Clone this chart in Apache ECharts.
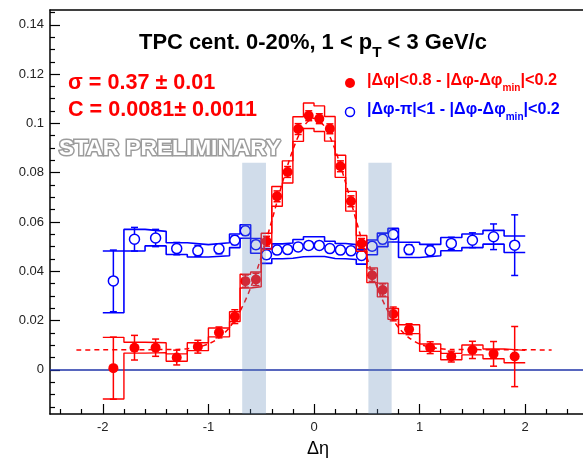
<!DOCTYPE html>
<html><head><meta charset="utf-8">
<script src="https://cdn.jsdelivr.net/npm/echarts@6/dist/echarts.min.js"></script>
<style>html,body{margin:0;padding:0;background:#fff}#c{width:583px;height:462px}</style>
</head><body><div id="c"></div>
<script>
// ---------------- data ----------------
const eta = [-1.9,-1.7,-1.5,-1.3,-1.1,-0.9,-0.75,-0.65,-0.55,-0.45,-0.35,-0.25,-0.15,-0.05,0.05,0.15,0.25,0.35,0.45,0.55,0.65,0.75,0.9,1.1,1.3,1.5,1.7,1.9];
const binHalfWidth = [0.1,0.1,0.1,0.1,0.1,0.1,0.05,0.05,0.05,0.05,0.05,0.05,0.05,0.05,0.05,0.05,0.05,0.05,0.05,0.05,0.05,0.05,0.1,0.1,0.1,0.1,0.1,0.1];

const redValues = [0.0007,0.0090,0.0090,0.0050,0.0094,0.0152,0.0216,0.0360,0.0367,0.0522,0.0704,0.0803,0.0977,0.1031,0.1019,0.0978,0.0826,0.0684,0.0513,0.0384,0.0324,0.0227,0.0165,0.0090,0.0054,0.0081,0.0065,0.0054];
const redStat   = [0.0126,0.0050,0.0035,0.0030,0.0026,0.0022,0.0028,0.0025,0.0025,0.0020,0.0022,0.0022,0.0022,0.0020,0.0020,0.0020,0.0022,0.0022,0.0020,0.0025,0.0025,0.0028,0.0022,0.0024,0.0022,0.0035,0.0050,0.0122];
const redSys    = [0.0125,0.0022,0.0020,0.0015,0.0016,0.0018,0.0020,0.0028,0.0030,0.0032,0.0040,0.0045,0.0050,0.0052,0.0052,0.0050,0.0045,0.0040,0.0032,0.0030,0.0028,0.0022,0.0018,0.0015,0.0013,0.0020,0.0020,0.0025];

const blueValues = [0.0361,0.0530,0.0535,0.0492,0.0483,0.0491,0.0526,0.0564,0.0508,0.0467,0.0486,0.0488,0.0499,0.0505,0.0505,0.0492,0.0486,0.0483,0.0464,0.0502,0.0530,0.0549,0.0488,0.0483,0.0513,0.0526,0.0540,0.0506];
const blueStat   = [0.0125,0.0048,0.0035,0.0025,0.0022,0.0020,0.0018,0.0018,0.0016,0.0016,0.0015,0.0015,0.0015,0.0015,0.0015,0.0015,0.0015,0.0015,0.0016,0.0016,0.0018,0.0018,0.0020,0.0022,0.0025,0.0030,0.0052,0.0123];
const blueSysUp  = [0.0121,0.0040,0.0027,0.0024,0.0025,0.0025,0.0025,0.0025,0.0025,0.0025,0.0025,0.0027,0.0030,0.0035,0.0035,0.0030,0.0027,0.0025,0.0025,0.0025,0.0025,0.0025,0.0030,0.0026,0.0024,0.0025,0.0026,0.0037];
const blueSysDown= [0.0129,0.0048,0.0032,0.0024,0.0025,0.0028,0.0030,0.0030,0.0035,0.0035,0.0035,0.0035,0.0040,0.0045,0.0045,0.0040,0.0035,0.0035,0.0035,0.0035,0.0030,0.0030,0.0032,0.0020,0.0030,0.0030,0.0030,0.0030];

const fitEta    = [-2.25,-1.3,-1.2,-1.1,-1.0,-0.9,-0.8,-0.7,-0.6,-0.5,-0.4,-0.3,-0.2,-0.1,0,0.1,0.2,0.3,0.4,0.5,0.6,0.7,0.8,0.9,1.0,1.1,1.2,1.3,2.25];
const fitValues = [0.0081,0.0083,0.0086,0.0092,0.0105,0.0130,0.0172,0.0238,0.0333,0.0458,0.0605,0.0758,0.0893,0.0987,0.1021,0.0987,0.0893,0.0758,0.0605,0.0458,0.0333,0.0238,0.0172,0.0130,0.0105,0.0092,0.0086,0.0083,0.0081];

const bandRanges = [[-0.68,-0.455],[0.515,0.735]];
const bandTop = 0.084;

const xTickLabels = [-2,-1,0,1,2];
const yTickLabels = [0,0.02,0.04,0.06,0.08,0.1,0.12,0.14];

// ---------------- layout ----------------
const X_MIN = -2.5, X_MAX = 2.547, Y_MIN = -0.0179, Y_MAX = 0.146;
const FONT = "'Liberation Sans', Arial, Helvetica, sans-serif";
const RED = '#ff0000', BLUE = '#0000ff';

const xMinor = []; for (let k = -12; k <= 12; k++) { if (k % 5 !== 0) xMinor.push(+(k * 0.2).toFixed(2)); }
const yMinor = []; for (let k = -3; k <= 29; k++) { if (k % 4 !== 0) yMinor.push(+(k * 0.005).toFixed(3)); }

function steps(vals, off, sign) {
  const out = [];
  eta.forEach((x, i) => {
    const y = vals[i] + sign * off[i];
    out.push([x - binHalfWidth[i], y], [x + binHalfWidth[i], y]);
  });
  return out;
}
function stepSeries(data, color, w, z) {
  return {type:'line', data, showSymbol:false, symbol:'none', z, lineStyle:{color, width:w}, itemStyle:{color}, silent:true, animation:false};
}
function errSeries(vals, errs, color, cap, z) {
  return {
    type:'custom', z, silent:true, animation:false,
    data: eta.map((x, i) => [x, vals[i], errs[i]]),
    encode:{x:0, y:1},
    renderItem: (params, api) => {
      const x = api.value(0), v = api.value(1), e = api.value(2);
      const t = api.coord([x, v + e]), b = api.coord([x, v - e]);
      const st = {stroke:color, lineWidth:1.5};
      return {type:'group', children:[
        {type:'line', shape:{x1:t[0], y1:t[1], x2:b[0], y2:b[1]}, style:st},
        {type:'line', shape:{x1:t[0]-cap, y1:t[1], x2:t[0]+cap, y2:t[1]}, style:st},
        {type:'line', shape:{x1:b[0]-cap, y1:b[1], x2:b[0]+cap, y2:b[1]}, style:st}
      ]};
    }
  };
}

const series = [
  {type:'line', data:[[X_MIN,0],[X_MAX,0]], symbol:'none', z:1, lineStyle:{color:'#1f33a8', width:1.5}, silent:true, animation:false},
  stepSeries(steps(blueValues, blueSysUp, 1), BLUE, 1.6, 2),
  stepSeries(steps(blueValues, blueSysDown, -1), BLUE, 1.6, 2),
  errSeries(blueValues, blueStat, BLUE, 3.5, 3),
  {type:'scatter', data: eta.map((x,i)=>[x, blueValues[i]]), symbol:'circle', symbolSize:10, z:4,
   itemStyle:{color:'#fff', borderColor:BLUE, borderWidth:1.5, opacity:1}, silent:true, animation:false},
  stepSeries(steps(redValues, redSys, 1), RED, 1.4, 5),
  stepSeries(steps(redValues, redSys, -1), RED, 1.4, 5),
  {type:'line', data: fitEta.map((x,i)=>[x, fitValues[i]]), symbol:'none', smooth:0.3, z:6,
   lineStyle:{color:RED, width:1.5, type:[5,4]}, silent:true, animation:false},
  errSeries(redValues, redStat, RED, 3.5, 7),
  {type:'scatter', data: eta.map((x,i)=>[x, redValues[i]]), symbol:'circle', symbolSize:10, z:8,
   itemStyle:{color:RED, opacity:1}, silent:true, animation:false},
  {type:'custom', z:20, silent:true, animation:false,
   data: bandRanges.map(r => [r[0], r[1]]),
   renderItem: (params, api) => {
     const a = api.coord([api.value(0), bandTop]), b = api.coord([api.value(1), Y_MIN]);
     return {type:'rect', shape:{x:a[0], y:a[1], width:b[0]-a[0], height:b[1]-a[1]}, style:{fill:'rgba(98,138,185,0.3)'}};
   }}
];

const baseX = {type:'value', min:X_MIN, max:X_MAX, splitLine:{show:false}};
const baseY = {type:'value', min:Y_MIN, max:Y_MAX, splitLine:{show:false}};
const option = {
  animation:false,
  grid:{left:50, right:0, top:10, bottom:48, containLabel:false},
  xAxis:[
    Object.assign({}, baseX, {position:'bottom', axisLine:{show:true, onZero:false, lineStyle:{color:'#000', width:1.5}},
      axisTick:{show:true, inside:true, length:10, customValues:xTickLabels, lineStyle:{color:'#000', width:1.2}},
      axisLabel:{show:true, customValues:xTickLabels, color:'#222', fontSize:13, fontFamily:FONT, margin:7, formatter: v => String(v)}}),
    Object.assign({}, baseX, {position:'bottom', axisLine:{show:false, onZero:false},
      axisTick:{show:true, inside:true, length:5, customValues:xMinor, lineStyle:{color:'#000', width:1.2}},
      axisLabel:{show:false}}),
    Object.assign({}, baseX, {position:'top', axisLine:{show:true, onZero:false, lineStyle:{color:'#000', width:1.5}},
      axisTick:{show:false}, axisLabel:{show:false}})
  ],
  yAxis:[
    Object.assign({}, baseY, {position:'left', axisLine:{show:true, onZero:false, lineStyle:{color:'#000', width:1.5}},
      axisTick:{show:true, inside:true, length:10, customValues:yTickLabels, lineStyle:{color:'#000', width:1.2}},
      axisLabel:{show:true, customValues:yTickLabels, color:'#222', fontSize:13, fontFamily:FONT, margin:6,
        formatter: v => String(parseFloat((+v).toFixed(3)))}}),
    Object.assign({}, baseY, {position:'left', axisLine:{show:false, onZero:false},
      axisTick:{show:true, inside:true, length:5, customValues:yMinor, lineStyle:{color:'#000', width:1.2}},
      axisLabel:{show:false}})
  ],
  series
};

// -------- annotation text (measured so widths match) --------
const ctx = document.createElement('canvas').getContext('2d');
function fnt(size, bold) { return (bold ? 'bold ' : '') + size.toFixed(2) + 'px ' + FONT; }
function tw(t, f) { ctx.font = f; return ctx.measureText(t).width; }
function textRow(parts, left, midY, size, color, targetWidth, bold, subScale, subDrop) {
  subScale = subScale || 0.62; subDrop = subDrop || 0.42;
  const total = s => parts.reduce((a, p) => a + tw(p.t, fnt(p.sub ? s * subScale : s, bold)), 0);
  if (targetWidth) size = size * targetWidth / total(size);
  let x = left; const els = [];
  parts.forEach(p => {
    const s = p.sub ? size * subScale : size, f = fnt(s, bold);
    els.push({type:'text', x, y: midY + (p.sub ? size * subDrop : 0), z:100,
      style:{text:p.t, font:f, fill:color, textAlign:'left', textVerticalAlign:'middle', align:'left', verticalAlign:'middle'}});
    x += tw(p.t, f);
  });
  return els;
}

let g = [];
g = g.concat(textRow([{t:'TPC cent. 0-20%, 1 < p'},{t:'T', sub:true},{t:' < 3 GeV/c'}], 139, 43, 21, '#000', 348, true, 0.7, 0.45));
const sigSize = 21 * 189 / (tw('C = 0.0081± 0.0011', fnt(21, true)));
g = g.concat(textRow([{t:'σ = 0.37 ± 0.01'}], 68, 83, sigSize, RED, null, true));
g = g.concat(textRow([{t:'C = 0.0081± 0.0011'}], 68, 110, sigSize, RED, null, true));
g = g.concat(textRow([{t:'|Δφ|<0.8 - |Δφ-Δφ'},{t:'min', sub:true},{t:'|<0.2'}], 367, 81, 16, RED, 190, true));
g = g.concat(textRow([{t:'|Δφ-π|<1 - |Δφ-Δφ'},{t:'min', sub:true},{t:'|<0.2'}], 367, 110, 16, BLUE, 193, true));
g.push({type:'circle', shape:{cx:350, cy:83, r:5}, style:{fill:RED}, z:100});
g.push({type:'circle', shape:{cx:350, cy:112, r:4.5}, style:{fill:'#fff', stroke:BLUE, lineWidth:1.5}, z:100});
// STAR PRELIMINARY
const starNat = tw('STAR PRELIMINARY', fnt(22, true));
const starSize = 22 * 222 / starNat;
g.push({type:'text', x:59, y:149, z:90, style:{text:'STAR PRELIMINARY', font:fnt(starSize, true), fill:'#ffffff',
  stroke:'#9c9c9c', lineWidth:3, strokeFirst:true, textAlign:'left', textVerticalAlign:'middle', align:'left', verticalAlign:'middle'}});
// axis title
g.push({type:'text', x:318, y:449, z:100, style:{text:'Δη', font:fnt(18, false), fill:'#000', textAlign:'center', textVerticalAlign:'middle', align:'center', verticalAlign:'middle'}});
option.graphic = {elements: g};

const chart = echarts.init(document.getElementById('c'), null, {renderer:'canvas'});
chart.setOption(option);
</script></body></html>
